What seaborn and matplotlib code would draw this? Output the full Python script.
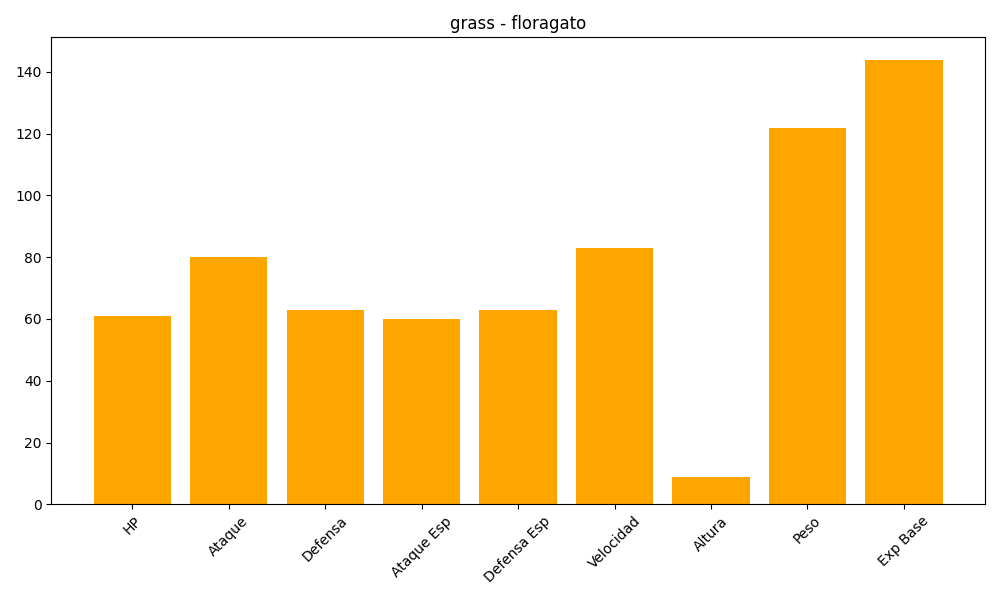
import matplotlib
matplotlib.use("Agg")
import matplotlib.pyplot as plt
import seaborn as sns
import pandas as pd

# Stats for floragato
stats_names = ['HP', 'Ataque', 'Defensa', 'Ataque Esp', 'Defensa Esp',
               'Velocidad', 'Altura', 'Peso', 'Exp Base']
stats_values = [61, 80, 63, 60, 63, 83, 9, 122, 144]

data = pd.DataFrame({'stat': stats_names, 'value': stats_values})

plt.figure(figsize=(10, 6))
ax = sns.barplot(x='stat', y='value', data=data, color='orange',
                 saturation=1, width=0.8, edgecolor='none')

# back to plain matplotlib x padding
ax.margins(x=0.05)
ax.autoscale(enable=True, axis='x')

plt.title('grass - floragato')
plt.xlabel('')
plt.ylabel('')
plt.xticks(rotation=45)
plt.tight_layout()
plt.savefig('out.png', dpi=100)
